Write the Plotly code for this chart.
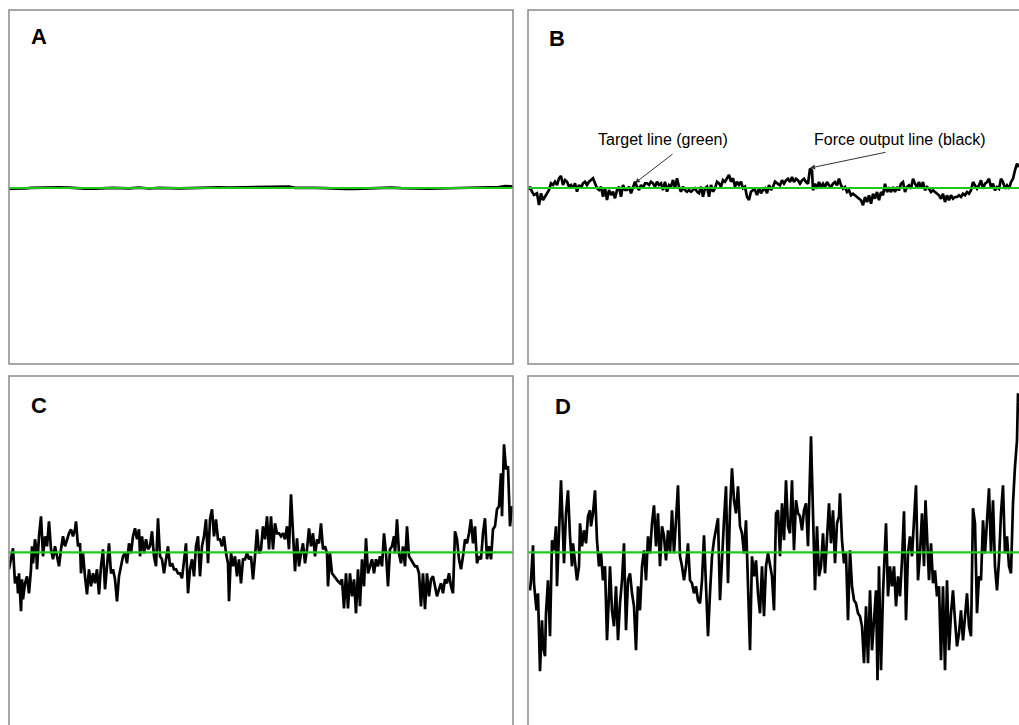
import plotly.graph_objects as go

# ---------------- data (deviation of force output from target, display units) ----------------
panel_labels = ["A", "B", "C", "D"]

a_points = [(0,-0.7),(8,-0.8),(16,-0.5),(22,0.2),(30,0.5),(40,0.4),(50,0.6),(60,0.4),(68,-0.5),(76,-0.7),(86,-0.6),
            (94,-0.1),(104,0.1),(112,-0.2),(120,-0.4),(130,0.3),(140,-0.5),(150,0.2),(160,-0.3),(170,-0.3),(180,-0.1),
            (190,0.4),(200,0.6),(210,0.7),(220,0.5),(230,0.6),(240,0.6),(250,0.4),(260,0.7),(270,0.6),(280,1.4),(286,0.1),
            (296,0.3),(306,0.2),(316,-0.2),(326,-0.7),(336,-0.9),(346,-0.8),(356,-0.5),(364,0.3),(372,0.4),(382,0.4),
            (392,-0.2),(400,-0.5),(410,-0.7),(420,-0.7),(430,-0.5),(440,-0.3),(448,0.4),(458,0.5),(466,0.3),(474,0.6),
            (482,0.4),(490,1.0),(496,2.0),(500,1.9),(504,1.5)]

b_points = [(1,-2),(2,1.3),(4,-3.7),(6,-7),(9,-5.3),(11,-17),(13,-5.3),(15,-12),(17,-8.7),(19,-5.3),(21,-2),(23,4.7),
            (25,3),(27,6.3),(29,3),(31,9.7),(33,12),(35,3),(37,8),(39,6.3),(41,1.3),(43,3),(45,-0.3),(47,4.7),(49,-3.7),
            (51,3),(53,-0.3),(55,4.7),(57,6.3),(59,3),(61,6.3),(63,8),(65,9.7),(67,4.7),(69,-0.3),(71,-2),(73,1.3),
            (75,-8.7),(77,-0.3),(79,-12),(81,-2),(83,-7),(85,-3.7),(87,-10.3),(89,-2),(91,1.3),(93,-8.7),(95,3),(97,-2),
            (99,-2),(101,1.3),(103,-5.3),(105,1.3),(107,6.3),(109,1.3),(111,-2),(113,3),(115,-0.3),(117,4.7),(119,4.7),
            (121,3),(123,6.3),(125,4.7),(127,1.3),(129,6.3),(131,3),(133,4.7),(135,-2),(137,6.3),(139,-3.7),(141,3),
            (143,1.3),(145,8),(147,-0.3),(149,9.7),(151,1.3),(153,-3.7),(155,1.3),(157,-2),(159,-3.7),(161,-2),(163,-3.7),
            (165,-2),(167,-0.3),(169,-3.7),(171,-5.3),(173,1.3),(175,-8.7),(177,-0.3),(179,1.3),(181,-8.7),(183,3),
            (185,-3.7),(187,-0.3),(189,6.3),(191,4.7),(193,1.3),(195,8),(197,6.3),(199,9.7),(201,13),(203,6.3),(205,9.7),
            (207,1.3),(209,6.3),(211,3),(213,6.3),(215,-0.3),(217,1.3),(219,-8.7),(221,-12),(223,-3.7),(225,-2),(227,-2),
            (229,-7),(231,-0.3),(233,-5.3),(235,-2),(237,-0.3),(239,-5.3),(241,3),(243,-2),(245,1.3),(247,6.3),
            (250,4.3),(252,2.7),(254,7.7),(256,4.3),(258,7.7),(260,9.3),(262,6),(264,11),(266,6),(268,9.3),(270,7.7),
            (272,4.3),(274,7.7),(276,9.3),(278,6),(280,4.3),(282,19.3),(284,17.7),(285,-2.3),(287,4.3),(289,-0.7),(291,6),
            (293,1),(295,4.3),(297,1),(299,6),(301,2.7),(303,1),(305,4.3),(307,6),(309,2.7),(311,9.3),(313,2.7),(315,-0.7),
            (317,1),(319,-4),(321,-2.3),(323,-7.3),(325,-5.7),(327,-7.3),(329,-9),(331,-10.7),(333,-12.3),(335,-17.3),
            (337,-9),(339,-14),(341,-7.3),(343,-15.7),(345,-5.7),(347,-10.7),(349,-4),(351,-12.3),(353,-4),(355,-7.3),
            (357,4.3),(359,-4),(361,-0.7),(363,-4),(365,1),(367,-4),(369,1),(371,-2.3),(373,4.3),(375,6),(377,-4),(379,1),
            (381,2.7),(383,-0.7),(385,9.3),(387,4.3),(389,1),(391,6),(393,-0.7),(395,6),(397,-2.3),(399,1),(401,-0.7),
            (403,-4),(405,-2.3),(407,-4),(409,-5.7),(411,-7.3),(413,-10.7),(415,-5.7),(417,-14),(419,-7.3),(421,-12.3),
            (423,-7.3),(425,-10.7),(427,-9),(429,-9),(431,-7.3),(433,-9),(435,-5.7),(437,-7.3),(439,-4),(441,-5.7),
            (443,-2.3),(445,6),(447,2.7),(449,-0.7),(451,2.7),(453,7.7),(455,-0.7),(457,4.3),(459,6),(461,9.3),(463,1),
            (465,4.3),(467,-2.3),(469,1),(471,-0.7),(473,9.3),(475,6),(477,-0.7),(479,2.7),(481,-0.7),(483,6),(485,9.3),
            (487,17.7),(489,24.3),(491,21)]

c_points = [(0,-17),(2,-7),(4,4),(6,-31),(8,-24),(9,-41),(10,-21),(12,-59),(13,-27),(14,-47),(16,-31),(18,-24),(20,-41),
            (22,-17),(23,6),(24,-11),(26,13),(27,6),(28,-17),(30,16),(32,36),(34,-4),(36,16),(38,6),(40,31),(42,3),(44,-7),
            (46,6),(48,-4),(50,-14),(52,3),(54,16),(56,6),(58,13),(60,19),(62,23),(64,16),(66,23),(67,31),(69,6),(71,9),
            (72,-21),(74,-1),(76,-24),(78,-42),(80,-17),(82,-34),(84,-21),(86,-31),(88,-17),(90,-42),(92,-14),(94,3),
            (96,-37),(98,-14),(100,9),(102,-21),(104,-17),(106,-27),(108,-49),(110,-24),(112,-14),(114,-4),(116,-1),
            (118,-11),(120,9),(122,-1),(124,16),(126,24),(128,13),(130,23),(131,-4),(133,16),(135,-1),(137,13),(139,3),
            (141,6),(143,21),(145,-4),(147,-14),(149,34),(151,-4),(153,-7),(155,-21),(157,-7),(159,6),(161,-14),(163,-11),
            (165,-17),(167,-17),(169,-21),(171,-21),(173,-26),(175,-7),(177,9),(179,-41),(181,-17),(183,-7),(185,-24),
            (187,6),(189,16),(191,-24),(193,6),(195,16),(197,33),(199,-11),(201,33),(203,43),(205,16),(207,33),(209,13),
            (211,13),(213,6),(215,16),(217,-1),(219,-11),(220,-49),(222,-1),(224,-14),(226,-4),(228,-24),(230,-7),
            (232,-31),(234,-7),(236,-7),(238,-1),(240,-7),(242,-4),(244,-27),(246,-4),(248,23),(250,-1),
            (252,3),(254,26),(256,13),(258,36),(260,3),(262,36),(264,3),(266,29),(268,19),(270,19),(272,16),(274,19),
            (276,13),(278,26),(280,3),(282,58),(284,13),(286,-19),(288,14),(290,-14),(292,-1),(294,9),(296,-11),(298,3),
            (300,24),(302,6),(304,19),(306,-4),(308,13),(310,9),(312,29),(314,3),(316,6),(318,-1),(319,-34),(321,-1),
            (323,-21),(325,-24),(327,-27),(329,-29),(331,-31),(333,-27),(335,-56),(337,-21),(339,-56),(341,-21),(343,-44),
            (345,-27),(347,-61),(349,-17),(351,-54),(353,-7),(355,-34),(357,14),(359,-21),(361,-14),(363,-7),(365,-21),
            (367,-7),(369,-14),(371,-4),(373,-14),(375,19),(377,-1),(379,-34),(381,3),(383,6),(385,16),(386,-1),(388,33),
            (390,-1),(392,-11),(394,6),(396,-14),(398,26),(400,-4),(402,-7),(404,-11),(406,-14),(408,-14),(410,-21),
            (412,-54),(414,-21),(416,-57),(418,-21),(420,-44),(422,-27),(424,-24),(426,-34),(428,-44),(430,-37),(432,-31),
            (434,-41),(436,-27),(438,-31),(440,-21),(442,-34),(444,-41),(446,21),(448,13),(450,-7),(452,-17),(454,-4),
            (456,13),(458,9),(460,19),(462,33),(464,9),(466,26),(468,-11),(470,-4),(472,-7),(474,19),(476,34),(478,-7),
            (480,6),(482,-7),(484,23),(486,26),(488,43),(490,46),(492,79),(493,36),(495,108),(497,83),(499,86),(501,26),
            (503,46),(504,40)]

d_points = [(2,-38),(3,-28),(5,7),(6,-31),(8.5,-58),(10,-41),(12,-119),(14,-68),(15,-94),(17,-104),(18,-61),(20,-28),
            (22,-84),(24,12),(26,2),(28,26),(29,-34),(31,26),(33,72),(35,19),(36,-11),(38,39),(40,62),(42,16),(44,-14),
            (45,9),(47,-8),(49,-28),(51,-14),(52,29),(54,6),(56,22),(58,9),(60,36),(62,42),(63,26),(65,39),(67,62),(69,12),
            (71,-14),(73,-1),(75,-28),(77,-14),(79,-88),(81,-41),(82,-14),(84,-58),(86,-74),(88,-34),(90,-88),(92,-51),
            (94,-28),(96,9),(98,-78),(100,-28),(102,-21),(104,-41),(106,-54),(108,-98),(110,-34),(112,-58),(114,-14),
            (116,2),(118,-28),(120,16),(122,-1),(124,29),(126,47),(128,6),(130,39),(132,-14),(134,26),(136,16),(138,-8),
            (140,22),(142,-1),(144,42),(146,-1),(148,32),(150,67),(152,-4),(154,-14),(156,-28),(158,-14),(160,9),(162,-28),
            (164,-31),(166,-41),(168,-34),(170,-48),(172,-51),(174,-28),(176,17),(178,-28),(180,-84),(182,-41),(184,-4),
            (186,12),(188,22),(190,34),(192,-48),(194,-1),(196,32),(198,66),(200,-31),(202,42),(204,84),(206,52),(208,39),
            (210,66),(212,26),(214,19),(216,-1),(218,32),(220,-28),(222,-98),(224,-4),(226,-24),(228,-8),(230,-41),
            (232,-61),(234,-14),(236,-64),(238,-14),(240,-1),(242,-11),(244,-24),(246,-58),(248,39),
            (250,42),(252,-4),(254,49),(256,12),(258,72),(260,26),(262,19),(264,72),(266,2),(268,52),(270,39),(272,36),
            (274,22),(276,42),(278,49),(280,6),(283,116),(285,29),(287,-38),(289,26),(291,-24),(293,-14),(295,19),
            (297,-21),(299,9),(301,49),(303,9),(305,42),(307,-11),(309,29),(311,36),(312,59),(314,12),(316,-11),(318,-1),
            (320,-68),(322,2),(324,-34),(326,-48),(328,-51),(330,-61),(332,-64),(334,-74),(336,-111),(338,-54),(340,-111),
            (342,-38),(344,-98),(346,-68),(348,-38),(349.5,-128),(351,-14),(353,-118),(355,-41),(358,29),(360,-44),
            (362,-14),(364,-34),(366,-14),(368,-54),(370,-24),(372,-44),(374,-8),(376,41),(378,-68),(380,-1),(382,16),
            (384,-4),(386,32),(388,67),(390,-28),(392,-1),(394,39),(396,-14),(397.5,52),(399,9),(401,-28),(403,9),
            (405,-31),(407,-18),(409,-44),(411,-34),(413,-108),(415,-34),(417,-118),(419,-28),(421,-98),(423,-61),
            (425,-38),(427,-68),(429,-94),(431,-81),(433,-58),(435,-88),(437,-61),(439,-41),(441,-74),(443,-84),(445,44),
            (447,29),(449,-61),(451,-24),(453,-28),(455,32),(457,-1),(459,39),(461,64),(463,-1),(465,52),(467,-14),
            (469,-38),(471,-8),(473,39),(475,67),(477,-1),(479,16),(481,-14),(483,-21),(485,49),(487,86),(489,112),
            (490,159),(491,150)]

target_value = 0

# ---------------- layout geometry ----------------
W, H = 1019, 725
def px(x): return x / W
def py(y): return 1 - y / H

panels = [
    ("A", a_points, [px(9), px(513)], [py(364), py(10)], [0, 504], [-176, 178]),
    ("B", b_points, [px(528), 1.0], [py(364), py(10)], [0, 491], [-176, 178]),
    ("C", c_points, [px(9), px(513)], [0.0, py(376)], [0, 504], [-172.7, 176.3]),
    ("D", d_points, [px(528), 1.0], [0.0, py(376)], [0, 491], [-172.7, 176.3]),
]

fig = go.Figure()
layout = dict(width=W, height=H, margin=dict(l=0, r=0, t=0, b=0),
              paper_bgcolor="white", plot_bgcolor="white", showlegend=False)

for i, (lab, pts, xd, yd, xr, yr) in enumerate(panels):
    n = "" if i == 0 else str(i + 1)
    t = [p[0] for p in pts]
    f = [p[1] for p in pts]
    fig.add_trace(go.Scatter(x=t, y=f, mode="lines", line=dict(color="black", width=2.7),
                             xaxis="x" + n, yaxis="y" + n, hoverinfo="skip"))
    fig.add_trace(go.Scatter(x=[xr[0], xr[1]], y=[target_value, target_value], mode="lines",
                             line=dict(color="#1ec81e", width=2.2),
                             xaxis="x" + n, yaxis="y" + n, hoverinfo="skip"))
    layout["xaxis" + n] = dict(domain=xd, range=xr, visible=False, fixedrange=True, anchor="y" + n)
    layout["yaxis" + n] = dict(domain=yd, range=yr, visible=False, fixedrange=True, anchor="x" + n)

fig.update_layout(**layout)

# panel borders
border = dict(color="#8a8a8a", width=1.5)
rects = [(9, 10, 513, 364), (528, 10, 1040, 364), (9, 376, 513, 740), (528, 376, 1040, 740)]
for (x0, y0, x1, y1) in rects:
    fig.add_shape(type="rect", xref="paper", yref="paper", x0=px(x0), y0=py(y1), x1=px(x1), y1=py(y0),
                  line=border, fillcolor="rgba(0,0,0,0)", layer="above")

# panel letters
letter_pos = [(29, 37), (547, 38), (29, 405), (553, 406)]
for lab, (lx, ly) in zip(panel_labels, letter_pos):
    fig.add_annotation(text="<b>" + lab + "</b>", xref="paper", yref="paper", x=px(lx), y=py(ly),
                       xanchor="left", yanchor="middle", showarrow=False,
                       font=dict(family="Liberation Sans, Arial, sans-serif", size=22, color="black"))

# callouts in panel B
txt_font = dict(family="Liberation Sans, Arial, sans-serif", size=16, color="black")
fig.add_annotation(text="Target line (green)", xref="x2", yref="y2", x=135, y=49, showarrow=False, font=txt_font)
fig.add_annotation(text="Force output line (black)", xref="x2", yref="y2", x=372, y=49, showarrow=False, font=txt_font)
fig.add_annotation(text="", xref="x2", yref="y2", x=107, y=5, axref="x2", ayref="y2", ax=146, ay=35,
                   showarrow=True, arrowhead=2, arrowsize=1, arrowwidth=1, arrowcolor="#333333")
fig.add_annotation(text="", xref="x2", yref="y2", x=282, y=20, axref="x2", ayref="y2", ax=359, ay=36,
                   showarrow=True, arrowhead=2, arrowsize=1, arrowwidth=1, arrowcolor="#333333")

fig.write_html("out.html", config={"displayModeBar": False},
               post_script="document.body.style.margin='0';document.body.style.overflow='hidden';")
